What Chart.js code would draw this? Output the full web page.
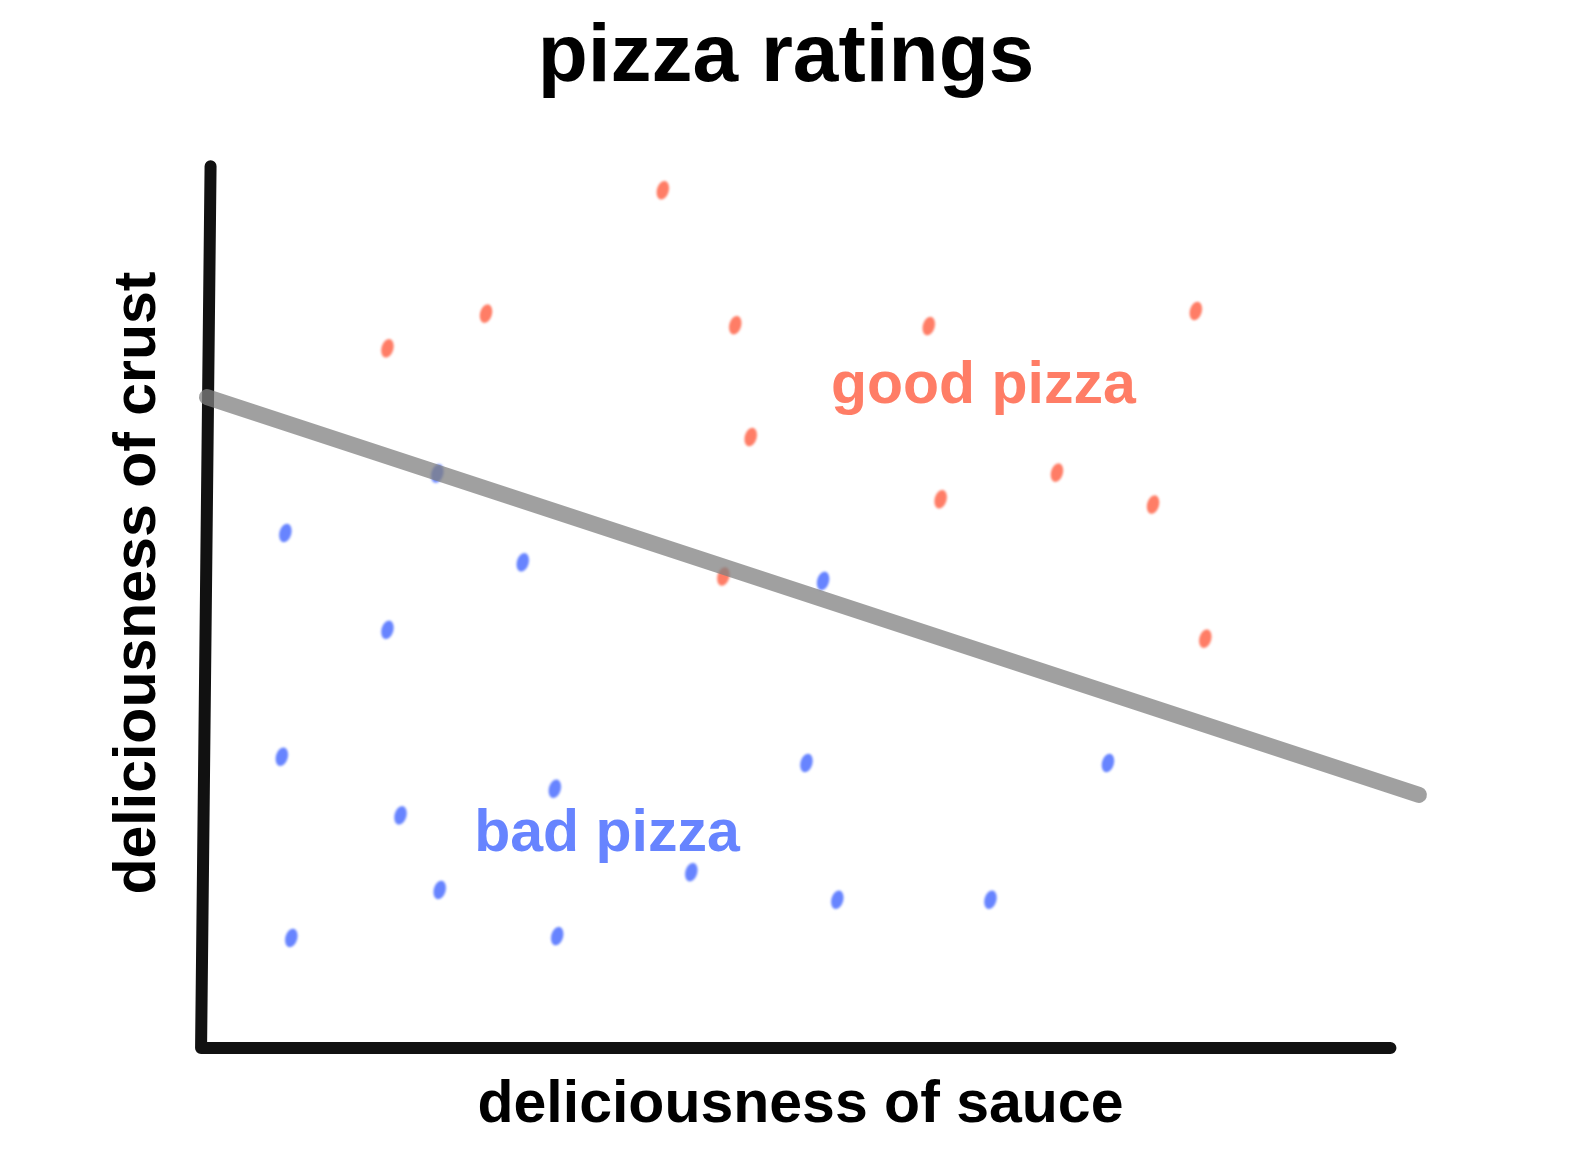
<!DOCTYPE html>
<html>
<head>
<meta charset="utf-8">
<title>pizza ratings</title>
<script src="https://cdn.jsdelivr.net/npm/chart.js@4.4.1/dist/chart.umd.min.js"></script>
<style>
  html, body { margin: 0; padding: 0; background: #fff; }
  #wrap { width: 1584px; height: 1152px; }
</style>
</head>
<body>
<div id="wrap"><canvas id="pizzaChart" width="1584" height="1152"></canvas></div>
<script>
// sauce (x) and crust (y) ratings, 0-10
const goodSauce = [3.84, 2.35, 1.52, 4.45, 6.08, 8.33, 4.58, 7.16, 6.18, 7.97, 4.35, 8.41];
const goodCrust = [9.66, 8.27, 7.88, 8.14, 8.13, 8.30, 6.88, 6.48, 6.18, 6.12, 5.31, 4.61];

const badSauce = [1.94, 0.66, 2.66, 5.19, 1.52, 0.63, 5.05, 7.59, 2.93, 1.63, 4.08, 1.96, 5.31, 6.60, 0.71, 2.95];
const badCrust = [6.47, 5.80, 5.47, 5.26, 4.71, 3.28, 3.21, 3.21, 2.92, 2.62, 1.98, 1.78, 1.67, 1.67, 1.24, 1.26];

const boundarySauce = [0, 10.21];
const boundaryCrust = [7.33, 2.85];

// hand-drawn axes (slightly leaning)
const axisSauce = [0.03, -0.05, 9.97];
const axisCrust = [9.93, 0, 0];

const goodColor = '#ff7d66';
const badColor = '#6784ff';
const fontFamily = '"Liberation Sans", Arial, sans-serif';

const toPoints = (xs, ys) => xs.map((x, i) => ({ x, y: ys[i] }));

// little tilted blobs like the hand-drawn dots
const makeDot = (color) => {
  const c = document.createElement('canvas');
  c.width = 22;
  c.height = 30;
  const g = c.getContext('2d');
  g.filter = 'blur(0.8px)';
  g.translate(11, 15);
  g.rotate(0.26);
  g.beginPath();
  g.ellipse(0, 0, 6, 9.5, 0, 0, Math.PI * 2);
  g.fillStyle = color;
  g.fill();
  return c;
};

const textLayer = {
  id: 'textLayer',
  afterDatasetsDraw(chart) {
    const { ctx, scales } = chart;
    const regions = [
      { text: 'good pizza', x: 6.54, y: 7.26, color: goodColor },
      { text: 'bad pizza', x: 3.37, y: 2.22, color: badColor },
    ];
    ctx.save();
    ctx.textAlign = 'center';
    ctx.textBaseline = 'alphabetic';

    ctx.font = `bold 59px ${fontFamily}`;
    regions.forEach((r) => {
      ctx.fillStyle = r.color;
      ctx.fillText(r.text, scales.x.getPixelForValue(r.x), scales.y.getPixelForValue(r.y));
    });

    ctx.fillStyle = '#000';
    ctx.font = `bold 82px ${fontFamily}`;
    ctx.fillText('pizza ratings', 786, 81);

    ctx.font = `bold 59px ${fontFamily}`;
    ctx.translate(155, 583);
    ctx.rotate(-Math.PI / 2);
    ctx.fillText('deliciousness of crust', 0, 0);
    ctx.restore();
  },
};

new Chart(document.getElementById('pizzaChart'), {
  type: 'scatter',
  data: {
    datasets: [
      {
        type: 'line',
        label: 'boundary',
        data: toPoints(boundarySauce, boundaryCrust),
        borderColor: 'rgba(128, 128, 128, 0.75)',
        borderWidth: 16,
        borderCapStyle: 'round',
        pointRadius: 0,
        clip: false,
        order: 0,
      },
      {
        label: 'good pizza',
        data: toPoints(goodSauce, goodCrust),
        pointStyle: makeDot(goodColor),
        order: 1,
      },
      {
        label: 'bad pizza',
        data: toPoints(badSauce, badCrust),
        pointStyle: makeDot(badColor),
        order: 1,
      },
      {
        type: 'line',
        label: 'axes',
        data: toPoints(axisSauce, axisCrust),
        borderColor: '#111',
        borderWidth: 12,
        borderCapStyle: 'round',
        borderJoinStyle: 'round',
        pointRadius: 0,
        clip: false,
        order: 2,
      },
    ],
  },
  options: {
    responsive: false,
    animation: false,
    devicePixelRatio: 1,
    layout: { padding: { top: 160, left: 207, right: 190, bottom: 10.6 } },
    plugins: {
      legend: { display: false },
      tooltip: { enabled: false },
      title: { display: false },
    },
    scales: {
      x: {
        type: 'linear',
        min: 0,
        max: 10,
        ticks: { display: false },
        grid: { display: false, drawTicks: false },
        border: { display: false },
        title: {
          display: true,
          text: 'deliciousness of sauce',
          color: '#000',
          font: { family: fontFamily, size: 59, weight: 'bold' },
          padding: { top: 22.6, bottom: 0 },
        },
      },
      y: {
        type: 'linear',
        display: false,
        min: 0,
        max: 10,
      },
    },
  },
  plugins: [textLayer],
});
</script>
</body>
</html>
